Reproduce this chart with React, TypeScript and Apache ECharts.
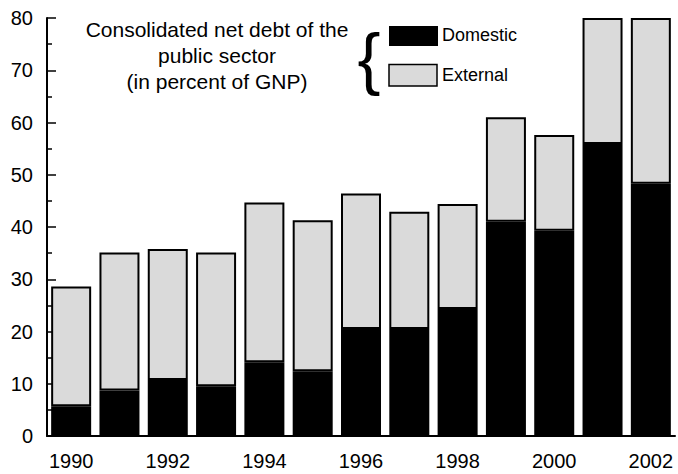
import React, { useEffect, useRef } from "react";
import * as echarts from "echarts";

const years = ["1990","1991","1992","1993","1994","1995","1996","1997","1998","1999","2000","2001","2002"];
const domestic = [5.7, 8.7, 10.7, 9.5, 14.1, 12.4, 20.5, 20.5, 24.3, 41.0, 39.3, 55.9, 48.3];
const external = [22.9, 26.4, 25.1, 25.6, 30.6, 28.9, 25.9, 22.4, 20.1, 20.0, 18.3, 24.1, 31.7];
const yTicks = [0, 10, 20, 30, 40, 50, 60, 70, 80];
const titleLines = ["Consolidated net debt of the", "public sector", "(in percent of GNP)"];
const legendNames = ["Domestic", "External"];

const FONT = '"Liberation Sans", Arial, Helvetica, sans-serif';

export default function App() {
  const ref = useRef<HTMLDivElement>(null);
  useEffect(() => {
    if (!ref.current) return;
    const chart = echarts.init(ref.current, null, { renderer: "svg" });
    chart.setOption({
      animation: false,
      backgroundColor: "#ffffff",
      textStyle: { fontFamily: FONT },
      grid: { left: 47, right: 3, top: 18, bottom: 38, containLabel: false },
      xAxis: {
        type: "category",
        data: years,
        axisLine: { show: true, lineStyle: { color: "#000", width: 2 } },
        axisTick: { show: false },
        axisLabel: {
          interval: 1,
          color: "#000",
          fontSize: 20,
          fontFamily: FONT,
          margin: 15,
        },
        splitLine: { show: false },
      },
      yAxis: {
        type: "value",
        min: yTicks[0],
        max: yTicks[yTicks.length - 1],
        interval: 10,
        axisLine: { show: true, lineStyle: { color: "#000", width: 2 } },
        axisTick: { show: true, inside: true, length: 9, lineStyle: { color: "#000", width: 1.5 } },
        minorTick: { show: true, splitNumber: 2, length: 5, lineStyle: { color: "#000", width: 1.5 } },
        axisLabel: { color: "#000", fontSize: 20, fontFamily: FONT, margin: 14 },
        splitLine: { show: false },
      },
      series: [
        {
          name: legendNames[0],
          type: "bar",
          stack: "debt",
          data: domestic,
          barWidth: 40,
          clip: false,
          itemStyle: { color: "#000", borderColor: "#000", borderWidth: 2 },
        },
        {
          name: legendNames[1],
          type: "bar",
          stack: "debt",
          data: external,
          barWidth: 40,
          clip: false,
          itemStyle: { color: "#dadada", borderColor: "#000", borderWidth: 2 },
        },
      ],
      graphic: [
        {
          type: "text",
          x: 217,
          y: 55.5,
          style: {
            text: titleLines.join("\n"),
            font: `21px ${FONT}`,
            fill: "#000",
            textAlign: "center",
            textVerticalAlign: "middle",
            lineHeight: 26,
          },
        },
        {
          type: "text",
          x: 369,
          y: 58,
          style: {
            text: "{",
            font: `69px ${FONT}`,
            fill: "#000",
            textAlign: "center",
            textVerticalAlign: "middle",
          },
        },
        {
          type: "rect",
          shape: { x: 389, y: 26, width: 49, height: 20 },
          style: { fill: "#000" },
        },
        {
          type: "rect",
          shape: { x: 389, y: 64.5, width: 48, height: 21.5 },
          style: { fill: "#dadada", stroke: "#000", lineWidth: 1.5 },
        },
        {
          type: "text",
          x: 442,
          y: 35,
          style: {
            text: legendNames[0],
            font: `18px ${FONT}`,
            fill: "#000",
            textAlign: "left",
            textVerticalAlign: "middle",
          },
        },
        {
          type: "text",
          x: 442,
          y: 75,
          style: {
            text: legendNames[1],
            font: `18px ${FONT}`,
            fill: "#000",
            textAlign: "left",
            textVerticalAlign: "middle",
          },
        },
      ],
    });
    return () => chart.dispose();
  }, []);
  return (
    <div
      ref={ref}
      style={{ position: "fixed", left: 0, top: 0, width: 678, height: 474, background: "#fff" }}
    />
  );
}
